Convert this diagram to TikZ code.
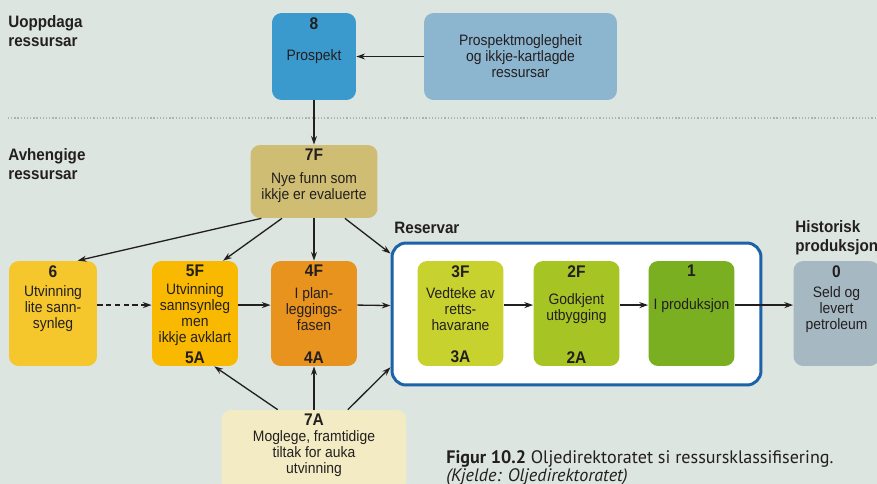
\documentclass[tikz,border=0pt]{standalone}
\usepackage{fontspec}
\setmainfont{Liberation Sans}[FakeStretch=0.92]
\newfontfamily\capfont{PT Sans}
\usetikzlibrary{arrows.meta}
\definecolor{bgc}{HTML}{DCE5E0}
\definecolor{txt}{HTML}{231F20}
\definecolor{frm}{HTML}{1B62A8}
\definecolor{sep}{HTML}{A9B4AE}
\definecolor{c8}{HTML}{3A9ACD}
\definecolor{cpm}{HTML}{8CB5CF}
\definecolor{c7f}{HTML}{CFBD73}
\definecolor{c7a}{HTML}{F2EBC3}
\definecolor{c6}{HTML}{F5C72C}
\definecolor{c5}{HTML}{F8B900}
\definecolor{c4}{HTML}{E8931E}
\definecolor{c3}{HTML}{C8D22F}
\definecolor{c2}{HTML}{A7C425}
\definecolor{c1}{HTML}{79AF21}
\definecolor{c0}{HTML}{A6B8C2}

\begin{document}
\begin{tikzpicture}[x=0.02cm,y=-0.02cm,color=txt,
  font=\fontsize{8.6}{9.1}\selectfont,>={Stealth[length=5pt,width=3.4pt]},
  bx/.style={rounded corners=5.5pt,minimum width=1.72cm,minimum height=2.1cm,
             inner sep=0pt,align=center},
  num/.style={label={[font=\fontsize{9.6}{10}\selectfont\bfseries,inner sep=0pt,
             anchor=north,yshift=-2.4pt]north:#1}},
  sub/.style={label={[font=\fontsize{9.6}{10}\selectfont\bfseries,inner sep=0pt,
             anchor=south,yshift=1.6pt]south:#1}},
  body/.style 2 args={label={[align=center,inner sep=0pt,yshift=#1]center:#2}},
  hd/.style={anchor=north west,inner sep=0pt,align=left,
             font=\fontsize{9.4}{10.9}\selectfont\bfseries},
  fl/.style={->,line width=0.75pt}]
% ---------------- background and separator
\fill[bgc] (0,0) rectangle (877,484);
\useasboundingbox (0,0) rectangle (877,484);
\draw[sep,line width=0.7pt,dash pattern=on 0.7pt off 1.1pt] (8,118) -- (877,118);
% ---------------- headings
\node[hd] (hup) at (8,15) {Uoppdaga\\ressursar};
\node[hd] (hav) at (8,148) {Avhengige\\ressursar};
\node[hd] (hres) at (394,222) {Reservar};
\node[hd] (hhist) at (795,220) {Historisk\\produksjon};
% ---------------- undiscovered
\node[bx,fill=c8,minimum width=1.68cm,minimum height=1.74cm,num=8] (n8) at (314,56.5) {Prospekt};
\node[bx,fill=cpm,minimum width=3.86cm,minimum height=1.74cm] (npm) at (520.5,56.5)
  {Prospektmoglegheit\\og ikkje-kartlagde\\ressursar};
% ---------------- contingent
\node[bx,fill=c7f,minimum width=2.54cm,minimum height=1.46cm,num=7F,
  body={-3.4pt}{Nye funn som\\ikkje er evaluerte}] (n7f) at (314,181.5) {};
\node[bx,fill=c6,minimum width=1.76cm,num=6,
  body={2.6pt}{Utvinning\\lite sann-\\synleg}] (n6) at (53,313.5) {};
\node[bx,fill=c5,num=5F,sub=5A,
  body={-0.4pt}{Utvinning\\sannsynleg\\men\\ikkje avklart}] (n5) at (195,313.5) {};
\node[bx,fill=c4,num=4F,sub=4A,
  body={2.6pt}{I plan-\\leggings-\\fasen}] (n4) at (314,313.5) {};
\node[bx,fill=c7a,minimum width=3.7cm,minimum height=1.6cm,num=7A,
  body={-2.3pt}{Moglege, framtidige\\tiltak for auka\\utvinning}] (n7a) at (314,450) {};
% ---------------- reserves
\node[draw=frm,line width=1.7pt,fill=white,rounded corners=8pt,
  minimum width=7.38cm,minimum height=2.84cm] (res) at (576.5,314) {};
\node[bx,fill=c3,num=3F,sub=3A,
  body={2.3pt}{Vedteke av\\retts-\\havarane}] (n3) at (460.5,313.5) {};
\node[bx,fill=c2,num=2F,sub=2A,
  body={2.8pt}{Godkjent\\utbygging}] (n2) at (576.5,313.5) {};
\node[bx,fill=c1,num=1,
  body={4.6pt}{I produksjon}] (n1) at (691.5,313.5) {};
% ---------------- produced
\node[bx,fill=c0,num=0,
  body={2.4pt}{Seld og\\levert\\petroleum}] (n0) at (836.5,313.5) {};
% ---------------- connectors
\draw[fl] (npm) -- (n8);
\draw[fl] (n8) -- (n7f);
\draw[fl] (n7f.215.6) -- (n6.65.4);
\draw[fl] (n7f.229.7) -- (n5.62.8);
\draw[fl] (n7f) -- (n4);
\draw[fl] (n7f.310.3) -- (res.162.5);
\draw[fl,dash pattern=on 3pt off 2pt] ([yshift=4.8pt]n6.east) -- ([yshift=4.8pt]n5.west);
\foreach \a/\b in {n5/n4,n4/res,n3/n2,n2/n1,n1/n0}
  \draw[fl] ([yshift=4.8pt]\a.east) -- ([yshift=4.8pt]\b.west);
\draw[fl] (n7a.132) -- (n5.290.5);
\draw[fl] (n7a) -- (n4);
\draw[fl] (n7a.50.5) -- (res.196.9);
% ---------------- caption
\node[anchor=north west,inner sep=0pt,align=left,font=\capfont\fontsize{10.3}{10.3}\selectfont]
  (cap) at (446,450) {\textbf{Figur 10.2} Oljedirektoratet si ressursklassifisering.\\
  \textit{(Kjelde: Oljedirektoratet)}};
\end{tikzpicture}
\end{document}
